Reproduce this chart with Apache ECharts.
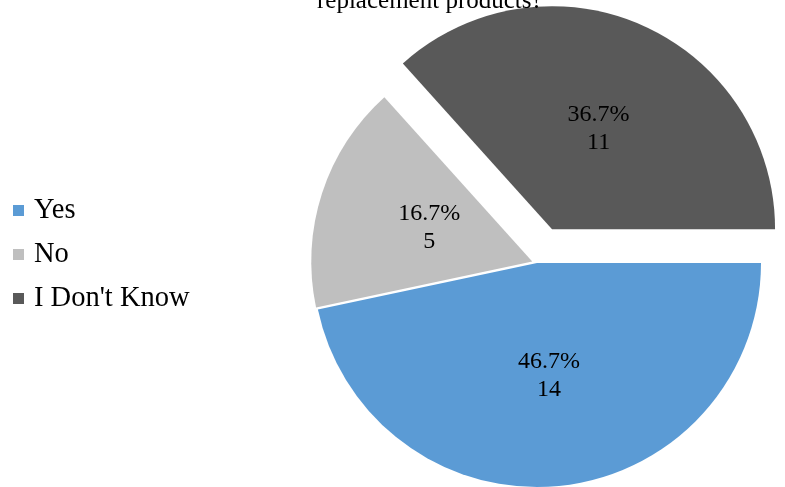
<!DOCTYPE html>
<html>
<head>
<meta charset="utf-8">
<script src="https://cdn.jsdelivr.net/npm/echarts@6/dist/echarts.min.js"></script>
<style>
  html, body { margin: 0; padding: 0; background: #fff; }
  #chart { width: 785px; height: 487px; }
</style>
</head>
<body>
<div id="chart"></div>
<script>
// Survey answers
const categories = ['Yes', 'No', "I Don't Know"];
const counts = [14, 5, 11];
const titleText = 'replacement products?';

// Slice styling
const sliceColors = ['#5B9BD5', '#BFBFBF', '#595959'];
const sliceOffsets = [0, 5, 37];
const sliceRadii = [224, 221, 223];
const labelNudges = [[0, -2], [5, 1], [0, 4]];
const serif = '"Liberation Serif", "Times New Roman", serif';

const total = counts.reduce((a, b) => a + b, 0);

const chart = echarts.init(document.getElementById('chart'), null, { renderer: 'canvas' });

// One pie layer per answer so each slice can be pulled out by its own distance;
// all layers share the same total, so the angles line up.
const series = categories.map((ownName, k) => ({
  type: 'pie',
  center: [537, 263],
  radius: sliceRadii[k],
  startAngle: 0,
  clockwise: true,
  selectedMode: 'single',
  selectedOffset: sliceOffsets[k],
  silent: true,
  animation: false,
  label: {
    show: true,
    position: 'inside',
    formatter: p => (p.value / total * 100).toFixed(1) + '%\n' + p.value,
    color: '#000',
    fontFamily: serif,
    fontSize: 24,
    lineHeight: 28
  },
  labelLayout: { dx: labelNudges[k][0], dy: labelNudges[k][1] },
  labelLine: { show: false },
  itemStyle: { borderWidth: 0 },
  data: categories.map((name, i) => ({
    name: name,
    value: counts[i],
    selected: i === k,
    itemStyle: { color: i === k ? sliceColors[i] : 'rgba(0,0,0,0)' },
    label: { show: i === k }
  }))
}));

chart.setOption({
  backgroundColor: '#fff',
  title: {
    text: titleText,
    left: 312,
    top: -16,
    textStyle: { fontFamily: serif, fontSize: 25, fontWeight: 'normal', color: '#000' }
  },
  legend: {
    orient: 'vertical',
    left: 8,
    top: 191,
    icon: 'rect',
    itemWidth: 11,
    itemHeight: 11,
    itemGap: 15,
    selectedMode: false,
    textStyle: { fontFamily: serif, fontSize: 28.5, color: '#000', padding: [0, 0, 0, 5] },
    data: categories.map((name, i) => ({ name: name, itemStyle: { color: sliceColors[i] } }))
  },
  series: series
});
</script>
</body>
</html>
